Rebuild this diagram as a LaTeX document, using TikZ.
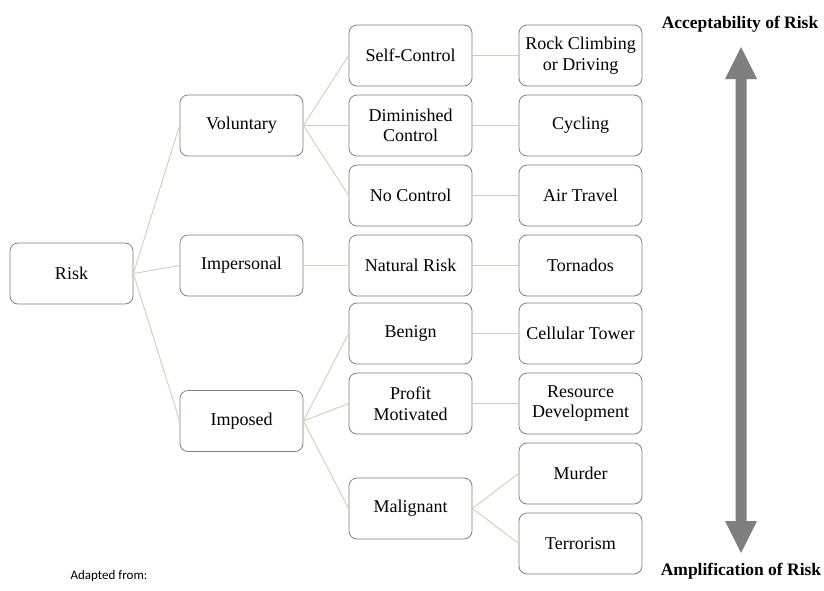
\documentclass[tikz,border=0pt]{standalone}
\usepackage{fontspec}
\setmainfont{Liberation Serif}
\newfontfamily\calibfont{Carlito}
\definecolor{boxgray}{RGB}{128,128,128}
\definecolor{linkcol}{RGB}{208,208,176}
\definecolor{arrowgray}{RGB}{127,127,127}
\begin{document}
\begin{tikzpicture}[x=1pt,y=-1pt,
  box/.style={draw=boxgray, rounded corners=8pt, minimum width=123pt, minimum height=61pt,
    align=center, font=\fontsize{18}{20.5}\selectfont, inner sep=2pt, line width=0.8pt},
  link/.style={draw=linkcol, line width=0.9pt},
  side/.style={font=\fontsize{17.5}{20}\selectfont\bfseries, anchor=base}]
\useasboundingbox (0,0) rectangle (824,590);

% column 1
\node[box] (risk) at (71.5,273.5) {Risk};
% column 2
\node[box] (vol) at (241.5,125.5) {Voluntary};
\node[box] (imp) at (241.5,265.5) {Impersonal};
\node[box] (ims) at (241.5,421) {Imposed};
% column 3
\node[box] (self) at (410.5,55.5) {Self-Control};
\node[box] (dim) at (410.5,125.5) {Diminished\\Control};
\node[box] (noc) at (410.5,195.5) {No Control};
\node[box] (nat) at (410.5,265.5) {Natural Risk};
\node[box] (ben) at (410.5,333.5) {Benign};
\node[box] (pro) at (410.5,403.5) {Profit\\Motivated};
\node[box] (mal) at (410.5,508.5) {Malignant};
% column 4
\node[box] (rock) at (580.5,55.5) {Rock Climbing\\or Driving};
\node[box] (cyc) at (580.5,125.5) {Cycling};
\node[box] (air) at (580.5,195.5) {Air Travel};
\node[box] (tor) at (580.5,265.5) {Tornados};
\node[box] (cell) at (580.5,333.5) {Cellular Tower};
\node[box] (res) at (580.5,403.5) {Resource\\Development};
\node[box] (mur) at (580.5,473.5) {Murder};
\node[box] (ter) at (580.5,543.5) {Terrorism};

% connectors
\foreach \a/\b in {risk/vol, risk/imp, risk/ims,
                   vol/self, vol/dim, vol/noc, imp/nat,
                   ims/ben, ims/pro, ims/mal,
                   self/rock, dim/cyc, noc/air, nat/tor,
                   ben/cell, pro/res, mal/mur, mal/ter}
  \draw[link] (\a.east) -- (\b.west);

% double arrow
\fill[arrowgray] (741,47) -- (757,79) -- (746.5,79) -- (746.5,521) -- (757,521)
  -- (741,553) -- (725,521) -- (735.5,521) -- (735.5,79) -- (725,79) -- cycle;

\node[side] (acc) at (740,28.5) {Acceptability of Risk};
\node[side] (amp) at (741,575) {Amplification of Risk};
\node[font=\calibfont\fontsize{13}{15}\selectfont, anchor=base] (adapt) at (109,579) {Adapted from:};
\end{tikzpicture}
\end{document}
